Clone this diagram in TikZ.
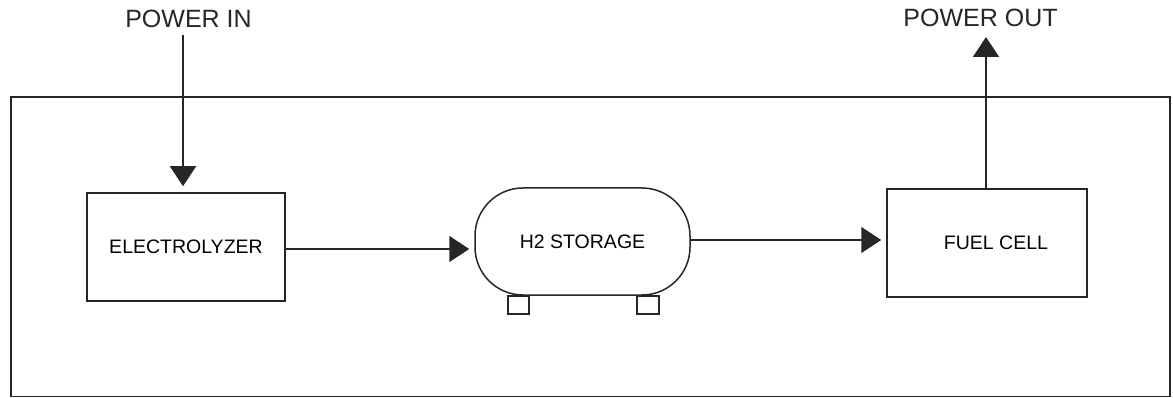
\documentclass[tikz,border=0pt]{standalone}
\usepackage{fontspec}
\setmainfont{Liberation Sans}
\usetikzlibrary{arrows.meta}
\begin{document}
\begin{tikzpicture}[x=1pt,y=-1pt,
  line/.style={draw=black!85,line width=1.5pt},
  blockbox/.style={line,rectangle,inner sep=0pt,minimum width=#1,minimum height=108pt,font=\fontsize{19.5}{22}\selectfont},
  flow/.style={line,-{Triangle[width=26pt,length=20pt]}},
  biglabel/.style={inner sep=0pt,font=\fontsize{25}{28}\selectfont,text=black!85}]
\useasboundingbox (0,0) rectangle (1173,398);
\draw[line] (11,97) rectangle (1170,396.5);
\node[blockbox=198pt] (elec) at (186,247) {ELECTROLYZER};
\node[blockbox=215pt,minimum height=107pt,rounded corners=48pt] (tank) at (582.5,241.5) {H2 STORAGE};
\node[blockbox=200pt] (fc) at (987,243) {\hspace*{18pt}FUEL CELL};
\draw[line] ([xshift=-74.5pt]tank.south) rectangle +(21,18);
\draw[line] ([xshift=54.5pt]tank.south) rectangle +(22,18);
\node[biglabel] (pin) at (188.5,19) {POWER IN};
\node[biglabel] (pout) at (980.5,17.5) {POWER OUT};
\coordinate (pinstart) at (183,35);
\coordinate (pouttip) at (986,37);
\draw[flow,shorten >=6pt] (pinstart) -- (pinstart |- elec.north);
\draw[flow] (pouttip |- fc.north) -- (pouttip);
\draw[flow,shorten >=5pt] ([yshift=-2pt]elec.east) -- ([yshift=-2pt]elec.east -| tank.west);
\draw[flow,shorten >=5pt] ([yshift=1.5pt]tank.east) -- ([yshift=1.5pt]tank.east -| fc.west);
\end{tikzpicture}
\end{document}
